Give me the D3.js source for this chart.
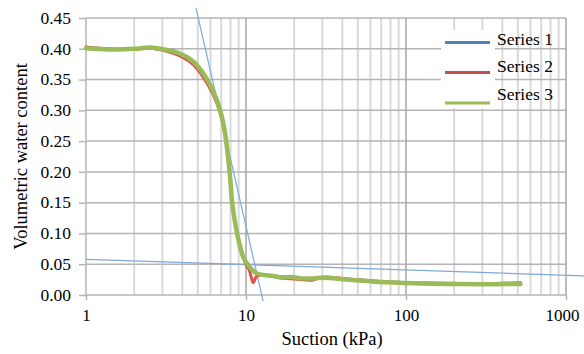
<!DOCTYPE html>
<html>
<head>
<meta charset="utf-8">
<script src="https://cdn.jsdelivr.net/npm/d3@7/dist/d3.min.js"></script>
<style>
  html, body { margin: 0; padding: 0; background: #fff; }
</style>
</head>
<body>
<svg id="chart" width="584" height="354"></svg>
<script>
// ---- data ----
const seriesNames = ["Series 1", "Series 2", "Series 3"];
const yTicks = [0, 0.05, 0.10, 0.15, 0.20, 0.25, 0.30, 0.35, 0.40, 0.45];
const xTicks = [1, 10, 100, 1000];

// Series 1: two straight reference lines (tangents)
const s1SteepX = [4.87, 12.8];
const s1SteepY = [0.466, -0.010];
const s1FlatX = [1, 1300];
const s1FlatY = [0.058, 0.031];

// Series 2 (red)
const s2X = [1, 1.4, 2.0, 2.5, 3.2, 3.9, 4.7, 5.4, 6.2, 6.9, 7.4, 7.9, 8.2, 8.8, 9.6, 10.1, 10.5, 11.1, 11.6, 12.5, 14.8, 17, 20, 26, 30, 43, 69, 111, 180, 290, 520];
const s2Y = [0.403, 0.400, 0.399, 0.401, 0.396, 0.388, 0.374, 0.354, 0.327, 0.295, 0.258, 0.198, 0.150, 0.100, 0.062, 0.047, 0.040, 0.020, 0.030, 0.033, 0.030, 0.027, 0.026, 0.024, 0.029, 0.026, 0.022, 0.020, 0.019, 0.018, 0.020];

// Series 3 (green)
const s3X = [1, 1.4, 2.0, 2.5, 3.2, 3.9, 4.7, 5.4, 6.2, 6.9, 7.4, 7.9, 8.2, 8.8, 9.6, 10.5, 11.7, 14.8, 16.3, 19.8, 22, 26.3, 30.4, 42.6, 68.8, 111, 180, 290, 520];
const s3Y = [0.401, 0.399, 0.400, 0.402, 0.398, 0.392, 0.379, 0.360, 0.333, 0.300, 0.263, 0.200, 0.150, 0.100, 0.062, 0.046, 0.035, 0.031, 0.029, 0.029, 0.027, 0.027, 0.028, 0.025, 0.021, 0.019, 0.018, 0.0175, 0.018];

const colors = ["#4F81BD", "#C0504D", "#9BBB59"];

// ---- layout ----
const FONT = "Liberation Serif";
const svg = d3.select("#chart");
const mLeft = 86, mRight = 566, mTop = 18, mBottom = 295;
const x = d3.scaleLog().domain([1, 1000]).range([mLeft, mRight]);
const y = d3.scaleLinear().domain([0, 0.45]).range([mBottom, mTop]);

const styleText = (sel, size) => sel.attr("font-family", FONT).style("font-family", `'${FONT}'`)
  .style("font-size", size + "px").attr("fill", "#000");

// minor vertical gridlines
const minor = [];
[1, 10, 100].forEach(d => { for (let k = 2; k <= 9; k++) minor.push(d * k); });
svg.append("g").selectAll("line").data(minor).join("line")
  .attr("x1", d => x(d)).attr("x2", d => x(d))
  .attr("y1", mTop).attr("y2", mBottom)
  .attr("stroke", "#d9d9d9").attr("stroke-width", 2);

// horizontal gridlines
svg.append("g").selectAll("line").data(yTicks.slice(1)).join("line")
  .attr("x1", mLeft).attr("x2", mRight)
  .attr("y1", d => y(d)).attr("y2", d => y(d))
  .attr("stroke", "#b5b5b5").attr("stroke-width", 1.5);

// major vertical gridlines
svg.append("g").selectAll("line").data(xTicks.slice(1)).join("line")
  .attr("x1", d => x(d)).attr("x2", d => x(d))
  .attr("y1", mTop).attr("y2", mBottom)
  .attr("stroke", "#a6a6a6").attr("stroke-width", 1.5);

// axes
const yAxis = d3.axisLeft(y).tickValues(yTicks).tickFormat(d3.format(".2f")).tickSize(7).tickPadding(8);
const gy = svg.append("g").attr("transform", `translate(${mLeft},0)`).call(yAxis);
gy.attr("font-family", FONT).attr("font-size", 17);
gy.select(".domain").attr("stroke", "#b5b5b5").attr("stroke-width", 1.5).attr("d", `M0,${mTop}V${mBottom}`);
gy.selectAll(".tick line").attr("stroke", "#b5b5b5").attr("stroke-width", 1.5);
gy.selectAll("text").call(styleText, 17.5).attr("dy", "0.3em");

const xAxis = d3.axisBottom(x).tickValues(xTicks).tickFormat(d3.format("d")).tickSize(5).tickPadding(8);
const gx = svg.append("g").attr("transform", `translate(0,${mBottom})`).call(xAxis);
gx.attr("font-family", FONT).attr("font-size", 17);
gx.select(".domain").attr("stroke", "#b5b5b5").attr("stroke-width", 1.5).attr("d", `M${mLeft},0H${mRight}`);
gx.selectAll(".tick line").attr("stroke", "#b5b5b5").attr("stroke-width", 1.5);
gx.selectAll("text").call(styleText, 17).attr("dy", "0.75em")
  .attr("dx", d => d === 1000 ? -4 : 0);

// axis titles
svg.append("text")
  .attr("transform", `translate(26.5,${(mTop + mBottom) / 2}) rotate(-90)`)
  .attr("text-anchor", "middle").call(styleText, 18.5)
  .text("Volumetric water content");
svg.append("text")
  .attr("x", (mLeft + mRight) / 2 + 6).attr("y", 345)
  .attr("text-anchor", "middle").call(styleText, 18.5)
  .text("Suction (kPa)");

// series
const lineStraight = d3.line().x(d => x(d[0])).y(d => y(d[1]));
const lineSmooth = d3.line().x(d => x(d[0])).y(d => y(d[1])).curve(d3.curveCatmullRom.alpha(0.5));

const zip = (a, b) => a.map((v, i) => [v, b[i]]);

svg.append("path").datum(zip(s1SteepX, s1SteepY)).attr("d", lineStraight)
  .attr("fill", "none").attr("stroke", "#7FA8DA").attr("stroke-width", 1.2);
svg.append("path").datum(zip(s1FlatX, s1FlatY)).attr("d", lineStraight)
  .attr("fill", "none").attr("stroke", "#7FA8DA").attr("stroke-width", 1.2);

svg.append("path").datum(zip(s2X, s2Y)).attr("d", lineSmooth)
  .attr("fill", "none").attr("stroke", "#E0504D").attr("stroke-width", 3)
  .attr("stroke-linejoin", "round").attr("stroke-linecap", "round");
svg.append("path").datum(zip(s3X, s3Y)).attr("d", lineSmooth)
  .attr("fill", "none").attr("stroke", colors[2]).attr("stroke-width", 4.5)
  .attr("stroke-linejoin", "round").attr("stroke-linecap", "round");

// legend
const lg = svg.append("g");
lg.append("rect").attr("x", 441).attr("y", 30).attr("width", 54).attr("height", 78).attr("fill", "#fff");
const lineYs = [42.5, 72.5, 103];
const textYs = [44.5, 72, 100];
seriesNames.forEach((name, i) => {
  lg.append("line").attr("x1", 445).attr("x2", 490)
    .attr("y1", lineYs[i]).attr("y2", lineYs[i])
    .attr("stroke", colors[i]).attr("stroke-width", 3);
  lg.append("text").attr("x", 497).attr("y", textYs[i])
    .call(styleText, 17.5).text(name);
});
</script>
</body>
</html>
